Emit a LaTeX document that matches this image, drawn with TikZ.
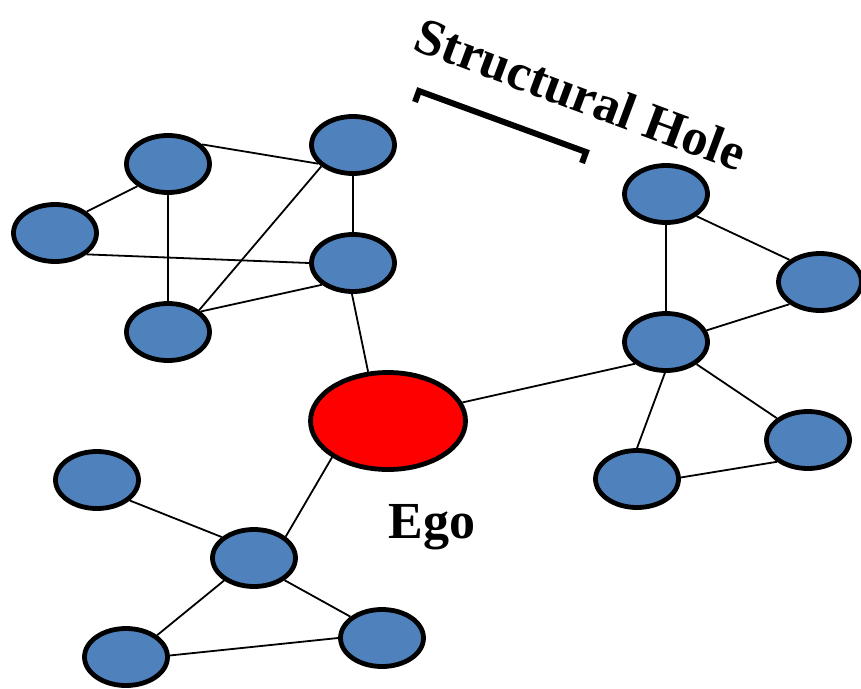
\documentclass[tikz,border=0pt]{standalone}
\usepackage{fontspec}
\setmainfont{Liberation Serif}
\usetikzlibrary{shapes.geometric}
\definecolor{nodeblue}{HTML}{4F81BD}
\tikzset{
  peer/.style={ellipse, draw=black, fill=nodeblue, line width=4.8pt, minimum width=83pt, minimum height=57pt, inner sep=0pt},
  egonode/.style={ellipse, draw=black, fill=red, line width=4.8pt, minimum width=155pt, minimum height=97pt, inner sep=0pt},
  link/.style={line width=1.8pt, black},
  bigtext/.style={font=\fontsize{52}{60}\selectfont\bfseries, inner sep=0pt}
}
\begin{document}
\begin{tikzpicture}[x=1pt,y=-1pt]
\useasboundingbox (0,0) rectangle (861,688);
% nodes
\node[peer] (A) at (168,164) {};
\node[peer] (B) at (55,233) {};
\node[peer] (C) at (353,145) {};
\node[peer] (D) at (353,263) {};
\node[peer] (E) at (168,332) {};
\node[egonode] (ego) at (388,421) {};
\node[peer] (F) at (666,194) {};
\node[peer] (G) at (820,282) {};
\node[peer] (H) at (666,342) {};
\node[peer] (I) at (808,440) {};
\node[peer] (J) at (637,479) {};
\node[peer] (K) at (97,480) {};
\node[peer] (L) at (254,558) {};
\node[peer] (M) at (126,657) {};
\node[peer] (N) at (382,638) {};
% links
\draw[link] (A.30) -- (C.208);
\draw[link] (A.216) -- (B.34);
\draw[link] (A.south) -- (E.north);
\draw[link] (B.-34) -- (D.180);
\draw[link] (C.south) -- (D.north);
\draw[link] (C.214) -- (E.35);
\draw[link] (E.32) -- (D.215);
\draw[link] (D.268) -- (ego.112);
\draw[link] (ego.14) -- (H.215);
\draw[link] (F.south) -- (H.north);
\draw[link] (F.-36) -- (G.144);
\draw[link] (H.16) -- (G.216);
\draw[link] (H.268) -- (J.90);
\draw[link] (H.-36) -- (I.145);
\draw[link] (J.2) -- (I.215);
\draw[link] (ego.213) -- (L.34);
\draw[link] (K.-32) -- (L.147);
\draw[link] (L.217) -- (M.35);
\draw[link] (L.-36) -- (N.146);
\draw[link] (M.2) -- (N.180);
% labels
\node[bigtext, anchor=base] (egolabel) at (432,538) {Ego};
\node[bigtext, rotate=-20.5] (holelabel) at (581,94) {Structural Hole};
% bracket
\coordinate (b1) at (415,102);
\coordinate (b2) at (419,91);
\coordinate (b3) at (586,152);
\coordinate (b4) at (582,163);
\draw[line width=6pt, line join=miter] (b1) -- (b2) -- (b3) -- (b4);
\end{tikzpicture}
\end{document}
